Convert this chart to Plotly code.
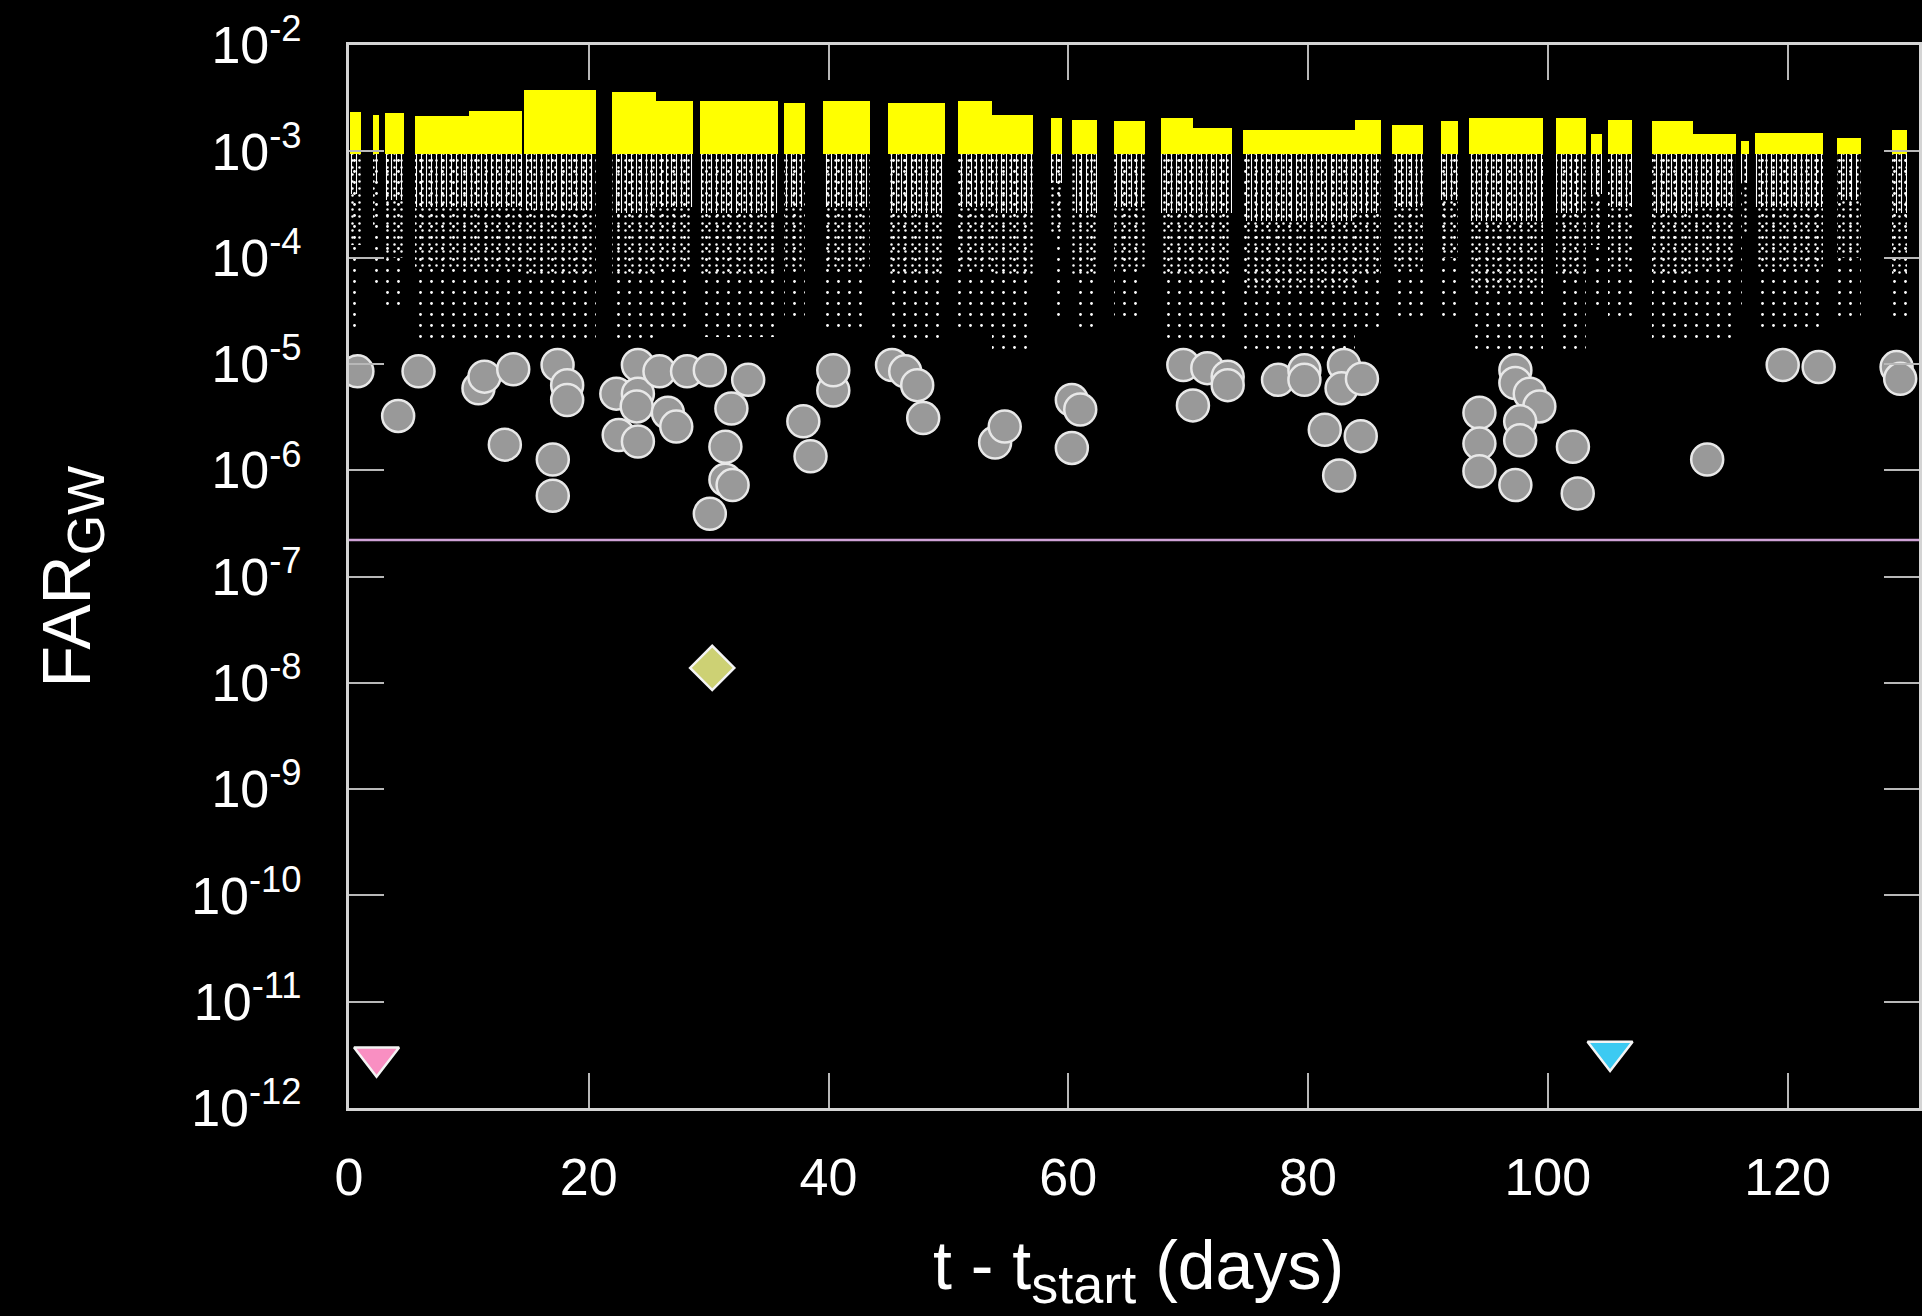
import plotly.graph_objects as go

# ---------------------------------------------------------------------------
# Data
# ---------------------------------------------------------------------------
# Background triggers: observing segments (days since t_start)
seg_start = [0.1, 2.0, 3.0, 5.5, 10.0, 14.6, 21.9, 25.6, 29.3, 36.3, 39.5, 45.0,
             50.8, 53.6, 58.6, 60.3, 63.8, 67.7, 70.4, 74.6, 83.9, 87.0, 91.1,
             93.4, 100.7, 103.6, 105.0, 108.7, 112.1, 116.1, 117.3, 124.1, 128.7]
seg_end = [1.0, 2.5, 4.6, 10.0, 14.4, 20.6, 25.6, 28.7, 35.8, 38.0, 43.5, 49.7,
           53.6, 57.1, 59.5, 62.4, 66.4, 70.4, 73.7, 83.9, 86.1, 89.6, 92.5,
           99.6, 103.2, 104.5, 107.0, 112.1, 115.7, 116.8, 123.0, 126.1, 130.0]
# loudest background FAR in each segment (yellow band top)
band_top = [2.34e-3, 2.19e-3, 2.29e-3, 2.14e-3, 2.40e-3, 3.80e-3, 3.63e-3, 2.95e-3,
            2.95e-3, 2.82e-3, 2.95e-3, 2.82e-3, 2.95e-3, 2.19e-3, 2.04e-3, 1.95e-3,
            1.91e-3, 2.04e-3, 1.66e-3, 1.58e-3, 1.95e-3, 1.78e-3, 1.91e-3, 2.04e-3,
            2.04e-3, 1.45e-3, 1.95e-3, 1.91e-3, 1.45e-3, 1.26e-3, 1.48e-3, 1.32e-3,
            1.58e-3]
# lower edges of the background triggers in each segment:
# densest core, bulk, and sparse tail
core_floor = [4.0e-4, 5.0e-4, 3.5e-4, 3.0e-4, 3.0e-4, 2.8e-4, 2.6e-4, 3.0e-4,
              2.6e-4, 3.0e-4, 3.0e-4, 2.6e-4, 3.0e-4, 2.6e-4, 5.0e-4, 2.6e-4,
              3.0e-4, 2.6e-4, 2.6e-4, 2.2e-4, 2.6e-4, 3.0e-4, 3.5e-4, 2.2e-4,
              2.6e-4, 4.0e-4, 3.0e-4, 2.6e-4, 3.0e-4, 5.0e-4, 3.0e-4, 3.5e-4,
              2.6e-4]
dense_floor = [1.3e-4, 2.0e-4, 1.0e-4, 8.0e-5, 8.0e-5, 7.0e-5, 6.5e-5, 8.0e-5,
               6.5e-5, 8.0e-5, 8.0e-5, 6.5e-5, 8.0e-5, 6.5e-5, 1.6e-4, 6.5e-5,
               8.0e-5, 6.5e-5, 6.5e-5, 5.0e-5, 6.5e-5, 8.0e-5, 1.0e-4, 5.0e-5,
               6.5e-5, 1.3e-4, 8.0e-5, 6.5e-5, 8.0e-5, 1.6e-4, 8.0e-5, 1.0e-4,
               6.5e-5]
sparse_floor = [2.0e-5, 5.0e-5, 3.2e-5, 1.6e-5, 1.6e-5, 1.6e-5, 1.6e-5, 2.0e-5,
                1.8e-5, 2.5e-5, 2.0e-5, 1.6e-5, 2.0e-5, 1.3e-5, 2.5e-5, 2.0e-5,
                2.5e-5, 1.6e-5, 1.6e-5, 1.3e-5, 2.0e-5, 2.5e-5, 2.5e-5, 1.3e-5,
                1.3e-5, 3.2e-5, 2.5e-5, 1.6e-5, 1.6e-5, 3.2e-5, 2.0e-5, 2.5e-5,
                2.5e-5]
band_base = 9.5e-4      # FAR below which triggers are drawn white
white_top = 1.0e-3

# Candidate events above the background
cand_t = [0.7, 4.1, 5.8, 10.8, 11.3, 13.0, 13.7, 17.0, 17.0, 17.4, 18.2, 18.2,
          22.3, 22.5, 24.1, 24.1, 24.0, 24.1, 25.9, 26.6, 27.3, 28.2, 30.1, 30.1,
          31.4, 31.4, 31.9, 32.0, 33.3, 37.9, 38.5, 40.4, 40.4, 45.3, 46.4, 47.4,
          47.9, 53.9, 54.7, 60.3, 61.0, 60.3, 69.6, 71.6, 73.3, 73.3, 70.4, 77.5,
          79.7, 79.7, 83.0, 82.8, 84.5, 81.4, 84.4, 82.6, 97.3, 97.3, 98.5, 99.3,
          94.3, 94.3, 94.3, 97.7, 97.7, 97.3, 102.1, 102.5, 113.3, 119.6, 122.6,
          129.1, 129.4]
cand_far = [8.51e-6, 3.24e-6, 8.51e-6, 5.89e-6, 7.59e-6, 1.74e-6, 8.91e-6, 1.26e-6,
            5.75e-7, 9.77e-6, 6.31e-6, 4.57e-6, 5.25e-6, 2.14e-6, 9.77e-6, 5.25e-6,
            3.98e-6, 1.86e-6, 8.51e-6, 3.47e-6, 2.57e-6, 8.51e-6, 8.71e-6, 3.89e-7,
            1.66e-6, 8.13e-7, 3.80e-6, 7.24e-7, 7.08e-6, 2.88e-6, 1.35e-6, 5.62e-6,
            8.71e-6, 9.77e-6, 8.51e-6, 6.31e-6, 3.09e-6, 1.82e-6, 2.57e-6, 4.57e-6,
            3.72e-6, 1.62e-6, 9.77e-6, 9.12e-6, 7.59e-6, 6.31e-6, 4.07e-6, 7.08e-6,
            8.71e-6, 7.08e-6, 9.77e-6, 5.89e-6, 7.24e-6, 2.40e-6, 2.09e-6, 8.91e-7,
            8.71e-6, 6.61e-6, 5.25e-6, 3.98e-6, 3.47e-6, 1.78e-6, 9.77e-7, 2.88e-6,
            1.91e-6, 7.24e-7, 1.66e-6, 6.03e-7, 1.26e-6, 9.77e-6, 9.33e-6, 9.33e-6,
            7.24e-6]

# Significant events
event_t = [2.3, 30.3, 105.2]
event_far = [3.0e-12, 1.38e-8, 3.4e-12]
event_symbol = ["triangle-down", "diamond", "triangle-down"]
event_size = [39, 34, 39]
event_color = ["#f98fc2", "#cdd174", "#3ccaf2"]

threshold_far = 2.2e-7

x_ticks = [0, 20, 40, 60, 80, 100, 120]
y_tick_exp = [-12, -11, -10, -9, -8, -7, -6, -5, -4, -3, -2]
x_range = [0, 130.97]

# ---------------------------------------------------------------------------
# Figure
# ---------------------------------------------------------------------------
FONT = "Liberation Sans, Arial, Helvetica, sans-serif"
seg_mid = [(a + b) / 2 for a, b in zip(seg_start, seg_end)]
seg_w = [b - a for a, b in zip(seg_start, seg_end)]

fig = go.Figure()


def trigger_layer(floor, top, shape, size, solidity):
    """Textured column of background triggers between floor and top."""
    return go.Bar(
        x=seg_mid, width=seg_w, base=floor,
        y=[top - f for f in floor],
        marker=dict(color="white", line=dict(width=0),
                    pattern=dict(shape=shape, size=size, solidity=solidity,
                                 fillmode="replace")),
        showlegend=False, hoverinfo="skip")


fig.add_trace(trigger_layer(sparse_floor, white_top, ".", 11, 0.05))
fig.add_trace(trigger_layer(dense_floor, white_top, ".", 7, 0.10))
fig.add_trace(trigger_layer(core_floor, white_top, "|", 5, 0.22))

# loudest background triggers
fig.add_trace(go.Bar(
    x=seg_mid, width=seg_w, base=[band_base] * len(seg_mid),
    y=[t - band_base for t in band_top],
    marker=dict(color="#ffff00", line=dict(width=0)),
    showlegend=False, hoverinfo="skip"))

# candidates
fig.add_trace(go.Scatter(
    x=cand_t, y=cand_far, mode="markers",
    marker=dict(size=32, color="#999999", opacity=1,
                line=dict(color="#e8e8e8", width=2.5)),
    showlegend=False, hoverinfo="skip"))

# significant events
fig.add_trace(go.Scatter(
    x=event_t, y=event_far, mode="markers",
    marker=dict(size=event_size, symbol=event_symbol, color=event_color,
                opacity=1, line=dict(color="#f4f4f4", width=2.5)),
    showlegend=False, hoverinfo="skip"))

fig.add_hline(y=threshold_far, line=dict(color="#cfa3d6", width=2.5), layer="above")

axis_common = dict(
    showgrid=False, zeroline=False, showline=True, linecolor="#d4d4d4", linewidth=3,
    ticks="inside", ticklen=35, tickwidth=2, tickcolor="#b8b8b8", mirror="ticks",
    tickfont=dict(family=FONT, size=52, color="white"))

fig.update_layout(
    width=1922, height=1316,
    margin=dict(l=349, r=0, t=45, b=208),
    paper_bgcolor="black", plot_bgcolor="black",
    barmode="overlay", bargap=0,
    xaxis=dict(range=x_range, tickmode="array", tickvals=x_ticks,
               ticktext=[str(v) for v in x_ticks], ticklabelstandoff=22,
               **axis_common),
    yaxis=dict(type="log", range=[-12, -2], tickmode="array",
               tickvals=[10.0 ** e for e in y_tick_exp],
               ticktext=["10<sup>%d</sup>" % e for e in y_tick_exp],
               ticklabelstandoff=34, **axis_common),
    annotations=[
        dict(text='t - t<sub><span style="font-size:54px">start</span></sub> (days)',
             xref="paper", yref="paper",
             x=0.503, y=-0.153, showarrow=False, xanchor="center", yanchor="middle",
             font=dict(family=FONT, size=68, color="white")),
        dict(text='FAR<sub><span style="font-size:52px">GW</span></sub>',
             xref="paper", yref="paper",
             x=-0.177, y=0.5, showarrow=False, textangle=-90,
             xanchor="center", yanchor="middle",
             font=dict(family=FONT, size=68, color="white")),
    ],
)

fig.write_html("out.html")
